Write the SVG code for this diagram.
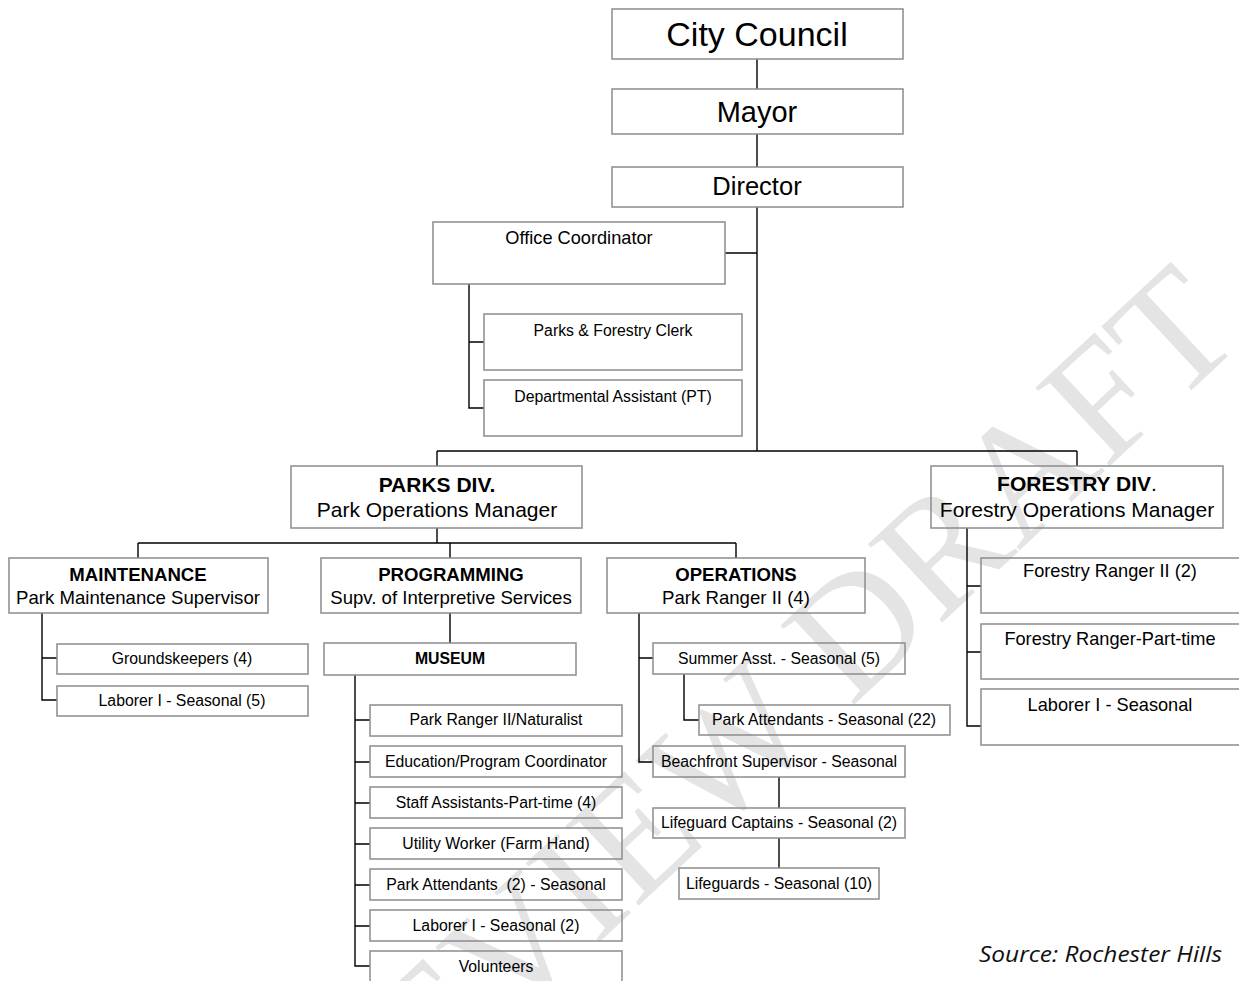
<svg xmlns="http://www.w3.org/2000/svg" width="1239" height="981" viewBox="0 0 1239 981">
<style>
.box{fill:none;stroke:#8c8c8c;stroke-width:1.5}
.ln{fill:none;stroke:#000;stroke-width:1.4}
text{font-family:"Liberation Sans",Arial,sans-serif;fill:#000;text-anchor:middle}
.b{font-weight:bold}
.s15{font-size:15.8px}
.s17{font-size:18.2px}
.s18{font-size:18.6px}
.s21{font-size:21px}
.wm{font-family:"Liberation Serif","Times New Roman",serif;font-size:165px;fill:#e4e4e4;text-anchor:middle}
.src{font-family:"Open Sans","Liberation Sans",sans-serif;font-style:italic;font-size:22px;fill:#111;text-anchor:start}
</style>
<rect width="1239" height="981" fill="#fff"/>
<text class="wm" transform="translate(800,755) rotate(-43)">REVIEW DRAFT</text>
<g id="connectors">
<path class="ln" d="M757,59V89M757,134V167M757,207V451M725,253H757M437,451H1077M437,451V466M1077,451V466"/>
<path class="ln" d="M469,284V408H484M469,342H484"/>
<path class="ln" d="M437,528V543M138,543H736M138,543V558M450,543V558M736,543V558"/>
<path class="ln" d="M42,613V700H57M42,658H57"/>
<path class="ln" d="M450,613V643M355,675V966H370M355,720H370M355,762H370M355,803H370M355,844H370M355,885H370M355,926H370"/>
<path class="ln" d="M639,613V762H653M639,658H653M684,674V720H699M779,777V808M779,838V868"/>
<path class="ln" d="M967,528V726H981M967,586H981M967,652H981"/>
</g>
<g id="city-council"><rect class="box" x="612" y="9" width="291" height="50"/><text x="757" y="46" style="font-size:34px">City Council</text></g>
<g id="mayor"><rect class="box" x="612" y="89" width="291" height="45"/><text x="757" y="122" style="font-size:29px">Mayor</text></g>
<g id="director"><rect class="box" x="612" y="167" width="291" height="40"/><text x="757" y="195" style="font-size:25.5px">Director</text></g>
<g id="office-coordinator"><rect class="box" x="433" y="222" width="292" height="62"/><text class="s17" x="579" y="244">Office Coordinator</text></g>
<g id="clerk"><rect class="box" x="484" y="314" width="258" height="56"/><text class="s15" x="613" y="336">Parks &amp; Forestry Clerk</text></g>
<g id="dept-assistant"><rect class="box" x="484" y="380" width="258" height="56"/><text class="s15" x="613" y="402">Departmental Assistant (PT)</text></g>
<g id="parks-div"><rect class="box" x="291" y="466" width="291" height="62"/><text class="s21 b" x="437" y="492">PARKS DIV.</text><text class="s21" x="437" y="517">Park Operations Manager</text></g>
<g id="forestry-div"><rect class="box" x="931" y="466" width="292" height="62"/><text class="s21" x="1077" y="491"><tspan class="b">FORESTRY DIV</tspan>.</text><text class="s21" x="1077" y="517">Forestry Operations Manager</text></g>
<g id="maintenance"><rect class="box" x="9" y="558" width="259" height="55"/><text class="s18 b" x="138" y="581">MAINTENANCE</text><text class="s18" x="138" y="604">Park Maintenance Supervisor</text></g>
<g id="programming"><rect class="box" x="321" y="558" width="260" height="55"/><text class="s18 b" x="451" y="581">PROGRAMMING</text><text class="s18" x="451" y="604">Supv. of Interpretive Services</text></g>
<g id="operations"><rect class="box" x="607" y="558" width="258" height="55"/><text class="s18 b" x="736" y="581">OPERATIONS</text><text class="s18" x="736" y="604">Park Ranger II (4)</text></g>
<g id="groundskeepers"><rect class="box" x="57" y="644" width="251" height="30"/><text class="s15" x="182" y="664">Groundskeepers (4)</text></g>
<g id="maint-laborer"><rect class="box" x="57" y="686" width="251" height="30"/><text class="s15" x="182" y="706">Laborer I - Seasonal (5)</text></g>
<g id="museum"><rect class="box" x="324" y="643" width="252" height="32"/><text class="s15 b" x="450" y="664">MUSEUM</text></g>
<g id="park-ranger-naturalist"><rect class="box" x="370" y="705" width="252" height="31"/><text class="s15" x="496" y="725">Park Ranger II/Naturalist</text></g>
<g id="education-coordinator"><rect class="box" x="370" y="746" width="252" height="31"/><text class="s15" x="496" y="767">Education/Program Coordinator</text></g>
<g id="staff-assistants"><rect class="box" x="370" y="787" width="252" height="31"/><text class="s15" x="496" y="808">Staff Assistants-Part-time (4)</text></g>
<g id="utility-worker"><rect class="box" x="370" y="828" width="252" height="31"/><text class="s15" x="496" y="849">Utility Worker (Farm Hand)</text></g>
<g id="museum-park-attendants"><rect class="box" x="370" y="869" width="252" height="31"/><text class="s15" x="496" y="890" xml:space="preserve">Park Attendants  (2) - Seasonal</text></g>
<g id="museum-laborer"><rect class="box" x="370" y="910" width="252" height="31"/><text class="s15" x="496" y="931">Laborer I - Seasonal (2)</text></g>
<g id="volunteers"><rect class="box" x="370" y="951" width="252" height="45"/><text class="s15" x="496" y="972">Volunteers</text></g>
<g id="summer-asst"><rect class="box" x="653" y="643" width="252" height="31"/><text class="s15" x="779" y="664">Summer Asst. - Seasonal (5)</text></g>
<g id="ops-park-attendants"><rect class="box" x="699" y="705" width="251" height="30"/><text class="s15" x="824" y="725">Park Attendants - Seasonal (22)</text></g>
<g id="beachfront"><rect class="box" x="653" y="746" width="252" height="31"/><text class="s15" x="779" y="767">Beachfront Supervisor - Seasonal</text></g>
<g id="lifeguard-captains"><rect class="box" x="653" y="808" width="252" height="30"/><text class="s15" x="779" y="828">Lifeguard Captains - Seasonal (2)</text></g>
<g id="lifeguards"><rect class="box" x="679" y="868" width="200" height="31"/><text class="s15" x="779" y="889">Lifeguards - Seasonal (10)</text></g>
<g id="forestry-ranger"><rect class="box" x="981" y="558" width="262" height="55"/><text class="s17" x="1110" y="577">Forestry Ranger II (2)</text></g>
<g id="forestry-ranger-pt"><rect class="box" x="981" y="624" width="262" height="55"/><text class="s17" x="1110" y="645">Forestry Ranger-Part-time</text></g>
<g id="forestry-laborer"><rect class="box" x="981" y="689" width="262" height="56"/><text class="s17" x="1110" y="711">Laborer I - Seasonal</text></g>
<text class="src" x="979" y="962" textLength="243" lengthAdjust="spacingAndGlyphs">Source: Rochester Hills</text>
</svg>
